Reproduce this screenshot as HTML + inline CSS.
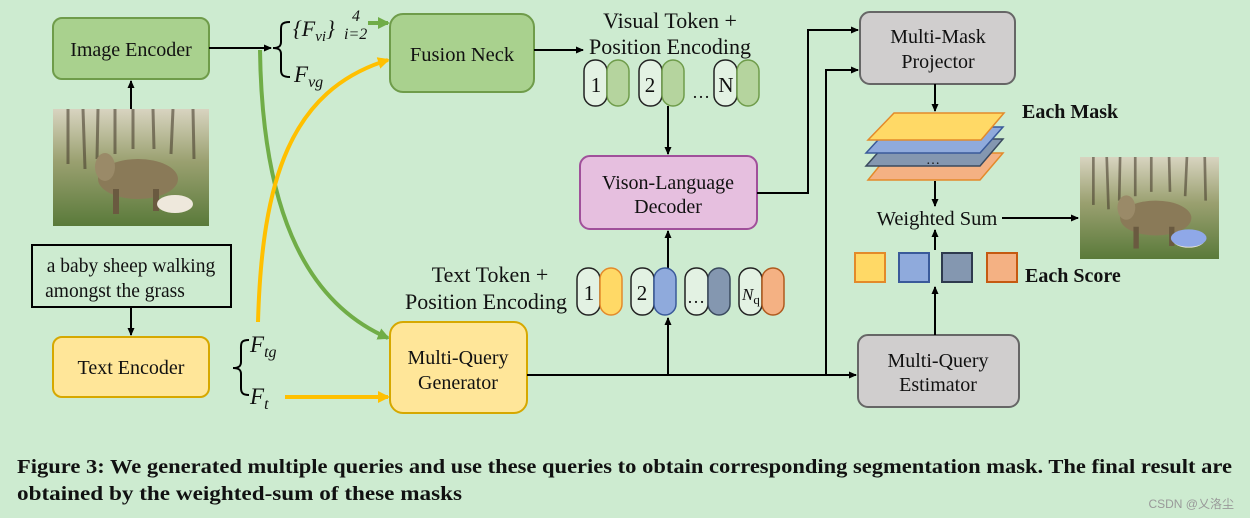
<!DOCTYPE html>
<html><head><meta charset="utf-8"><style>
html,body{margin:0;padding:0;background:#cdebd0}
svg{display:block}
text{font-family:"Liberation Serif",serif;fill:#111}
</style></head><body>
<svg width="1250" height="518" viewBox="0 0 1250 518" xmlns="http://www.w3.org/2000/svg">
<defs>
<marker id="ab" markerWidth="8" markerHeight="8" refX="7" refY="4" orient="auto" markerUnits="userSpaceOnUse"><path d="M0,0.5 L8,4 L0,7.5 z" fill="#000"/></marker>
<marker id="ag" markerWidth="12" markerHeight="12" refX="10" refY="6" orient="auto" markerUnits="userSpaceOnUse"><path d="M0,0 L12,6 L0,12 z" fill="#70ad47"/></marker>
<marker id="ay" markerWidth="12" markerHeight="12" refX="10" refY="6" orient="auto" markerUnits="userSpaceOnUse"><path d="M0,0 L12,6 L0,12 z" fill="#ffc000"/></marker>
<linearGradient id="ph" x1="0" y1="0" x2="0" y2="1"><stop offset="0" stop-color="#d8d4c0"/><stop offset="0.45" stop-color="#9aa070"/><stop offset="1" stop-color="#5a7a3a"/></linearGradient>
<symbol id="photo" viewBox="0 0 156 117">
<rect width="156" height="117" fill="url(#ph)"/>
<g stroke="#4a4030" stroke-width="3" opacity="0.6"><line x1="15" y1="0" x2="15" y2="55"/><line x1="30" y1="0" x2="32" y2="60"/><line x1="45" y1="0" x2="44" y2="50"/><line x1="62" y1="0" x2="62" y2="45"/><line x1="80" y1="0" x2="80" y2="40"/><line x1="100" y1="0" x2="101" y2="40"/><line x1="120" y1="0" x2="118" y2="45"/><line x1="140" y1="0" x2="141" y2="50"/></g>
<ellipse cx="85" cy="70" rx="40" ry="20" fill="#8a7a58"/>
<ellipse cx="52" cy="58" rx="10" ry="14" fill="#9a8a68"/>
<rect x="60" y="80" width="6" height="25" fill="#6a5a40"/><rect x="100" y="80" width="6" height="22" fill="#6a5a40"/>
<ellipse cx="122" cy="95" rx="18" ry="9" fill="#eee8dc"/>
</symbol>
</defs>

<use href="#photo" x="53" y="109" width="156" height="117"/>
<svg x="1080" y="157" width="139" height="102" viewBox="0 0 156 117" preserveAspectRatio="none"><use href="#photo" width="156" height="117"/><ellipse cx="122" cy="93" rx="20" ry="10" fill="#8fa8e8"/></svg>

<path d="M260,50 C262,200 300,300 388,338" fill="none" stroke="#70ad47" stroke-width="4" marker-end="url(#ag)"/>
<path d="M258,322 C262,180 290,90 388,60" fill="none" stroke="#ffc000" stroke-width="4" marker-end="url(#ay)"/>
<line x1="368" y1="23" x2="388" y2="23" stroke="#70ad47" stroke-width="4" marker-end="url(#ag)"/>
<line x1="285" y1="397" x2="388" y2="397" stroke="#ffc000" stroke-width="4" marker-end="url(#ay)"/>

<rect x="53" y="18" width="156" height="61" rx="9" fill="#a9d18e" stroke="#6f9c4a" stroke-width="2"/>
<text x="131" y="56" font-size="20" text-anchor="middle">Image Encoder</text>
<rect x="32" y="245" width="199" height="62" fill="none" stroke="#000" stroke-width="2"/>
<text x="131" y="272" font-size="19.5" text-anchor="middle">a baby sheep walking</text>
<text x="115" y="297" font-size="19.5" text-anchor="middle">amongst the grass</text>
<rect x="53" y="337" width="156" height="60" rx="9" fill="#ffe699" stroke="#d6a800" stroke-width="2"/>
<text x="131" y="374" font-size="20" text-anchor="middle">Text Encoder</text>
<rect x="390" y="14" width="144" height="78" rx="13" fill="#a9d18e" stroke="#6f9c4a" stroke-width="2"/>
<text x="462" y="61" font-size="20.5" text-anchor="middle">Fusion Neck</text>
<rect x="390" y="322" width="137" height="91" rx="13" fill="#ffe699" stroke="#d6a800" stroke-width="2"/>
<text x="458" y="364" font-size="20" text-anchor="middle">Multi-Query</text>
<text x="458" y="389" font-size="20" text-anchor="middle">Generator</text>
<rect x="580" y="156" width="177" height="73" rx="10" fill="#e6bfdf" stroke="#a0509a" stroke-width="2"/>
<text x="668" y="189" font-size="20" text-anchor="middle">Vison-Language</text>
<text x="668" y="213" font-size="20" text-anchor="middle">Decoder</text>
<rect x="860" y="12" width="155" height="72" rx="10" fill="#d0cece" stroke="#666" stroke-width="2"/>
<text x="938" y="43" font-size="20" text-anchor="middle">Multi-Mask</text>
<text x="938" y="68" font-size="20" text-anchor="middle">Projector</text>
<rect x="858" y="335" width="161" height="72" rx="10" fill="#d0cece" stroke="#666" stroke-width="2"/>
<text x="938" y="367" font-size="20" text-anchor="middle">Multi-Query</text>
<text x="938" y="391" font-size="20" text-anchor="middle">Estimator</text>

<g stroke="#000" stroke-width="2" fill="none">
<line x1="209" y1="48" x2="271" y2="48" marker-end="url(#ab)"/>
<line x1="131" y1="109" x2="131" y2="81" marker-end="url(#ab)"/>
<line x1="131" y1="307" x2="131" y2="335" marker-end="url(#ab)"/>
<line x1="534" y1="50" x2="583" y2="50" marker-end="url(#ab)"/>
<line x1="668" y1="106" x2="668" y2="154" marker-end="url(#ab)"/>
<line x1="668" y1="268" x2="668" y2="231" marker-end="url(#ab)"/>
<line x1="527" y1="375" x2="856" y2="375" marker-end="url(#ab)"/>
<line x1="668" y1="375" x2="668" y2="318" marker-end="url(#ab)"/>
<polyline points="826,375 826,70 858,70" marker-end="url(#ab)"/>
<polyline points="757,193 808,193 808,30 858,30" marker-end="url(#ab)"/>
<line x1="935" y1="84" x2="935" y2="111" marker-end="url(#ab)"/>
<line x1="935" y1="181" x2="935" y2="206" marker-end="url(#ab)"/>
<line x1="935" y1="250" x2="935" y2="230" marker-end="url(#ab)"/>
<line x1="935" y1="335" x2="935" y2="287" marker-end="url(#ab)"/>
<line x1="1002" y1="218" x2="1078" y2="218" marker-end="url(#ab)"/>
<path d="M290,22 C280,22 281,26 281,32 L281,42 C281,46 279,48 273,48 C279,48 281,50 281,54 L281,70 C281,75 283,77 290,77" stroke-width="2"/>
<path d="M249,340 C240,340 241,344 241,350 L241,362 C241,366 239,368 233,368 C239,368 241,370 241,374 L241,388 C241,393 243,395 249,395"/>
</g>

<text x="293" y="36" font-size="22" font-style="italic">{F<tspan font-size="15" dy="5">vi</tspan><tspan dy="-5">}</tspan></text>
<text x="352" y="21" font-size="16" font-style="italic">4</text>
<text x="344" y="39" font-size="16" font-style="italic">i=2</text>
<text x="294" y="82" font-size="23" font-style="italic">F<tspan font-size="16" dy="5">vg</tspan></text>
<text x="250" y="352" font-size="23" font-style="italic">F<tspan font-size="16" dy="5">tg</tspan></text>
<text x="250" y="404" font-size="23" font-style="italic">F<tspan font-size="16" dy="5">t</tspan></text>

<text x="670" y="28" font-size="22" text-anchor="middle">Visual Token +</text>
<text x="670" y="54" font-size="22" text-anchor="middle">Position Encoding</text>
<g stroke-width="1.5">
<rect x="584" y="60" width="23" height="46" rx="11" fill="#e3f2e3" stroke="#222"/>
<rect x="607" y="60" width="22" height="46" rx="11" fill="#b5d49e" stroke="#6f9c4a"/>
<rect x="639" y="60" width="23" height="46" rx="11" fill="#e3f2e3" stroke="#222"/>
<rect x="662" y="60" width="22" height="46" rx="11" fill="#b5d49e" stroke="#6f9c4a"/>
<rect x="714" y="60" width="23" height="46" rx="11" fill="#e3f2e3" stroke="#222"/>
<rect x="737" y="60" width="22" height="46" rx="11" fill="#b5d49e" stroke="#6f9c4a"/>
</g>
<text x="596" y="92" font-size="21" text-anchor="middle">1</text>
<text x="650" y="92" font-size="21" text-anchor="middle">2</text>
<text x="701" y="98" font-size="18" text-anchor="middle">…</text>
<text x="726" y="92" font-size="21" text-anchor="middle">N</text>

<text x="490" y="282" font-size="22" text-anchor="middle">Text Token +</text>
<text x="486" y="309" font-size="22" text-anchor="middle">Position Encoding</text>
<g stroke-width="1.5">
<rect x="577" y="268" width="23" height="47" rx="11" fill="#e3f2e3" stroke="#222"/>
<rect x="600" y="268" width="22" height="47" rx="11" fill="#ffd966" stroke="#e38a2a"/>
<rect x="631" y="268" width="23" height="47" rx="11" fill="#e3f2e3" stroke="#222"/>
<rect x="654" y="268" width="22" height="47" rx="11" fill="#8faadc" stroke="#3a5a9a"/>
<rect x="685" y="268" width="23" height="47" rx="11" fill="#e3f2e3" stroke="#222"/>
<rect x="708" y="268" width="22" height="47" rx="11" fill="#8497b0" stroke="#3a4a5e"/>
<rect x="739" y="268" width="23" height="47" rx="11" fill="#e3f2e3" stroke="#222"/>
<rect x="762" y="268" width="22" height="47" rx="11" fill="#f4b183" stroke="#b05a1e"/>
</g>
<text x="589" y="300" font-size="21" text-anchor="middle">1</text>
<text x="642" y="300" font-size="21" text-anchor="middle">2</text>
<text x="696" y="303" font-size="18" text-anchor="middle">…</text>
<text x="742" y="300" font-size="17" font-style="italic">N<tspan font-size="13" dy="4" font-style="normal">q</tspan></text>

<polygon points="890,153 1003,153 980,180 868,180" fill="#f4b183" stroke="#e38a2a" stroke-width="1.5"/>
<polygon points="890,139 1003,139 980,166 866,166" fill="#8497b0" stroke="#3a4a5e" stroke-width="1.5"/>
<polygon points="890,127 1003,127 980,153 866,153" fill="#8faadc" stroke="#3a5a9a" stroke-width="1.5"/>
<polygon points="894,113 1004,113 981,140 868,140" fill="#ffd966" stroke="#e38a2a" stroke-width="1.5"/>
<text x="926" y="164" font-size="14">…</text>
<text x="1022" y="118" font-size="20" font-weight="bold">Each Mask</text>
<text x="937" y="225" font-size="20.5" text-anchor="middle">Weighted Sum</text>

<rect x="855" y="253" width="30" height="29" fill="#ffd966" stroke="#e38a2a" stroke-width="2"/>
<rect x="899" y="253" width="30" height="29" fill="#8faadc" stroke="#3a5a9a" stroke-width="2"/>
<rect x="942" y="253" width="30" height="29" fill="#8497b0" stroke="#2e3a4e" stroke-width="2"/>
<rect x="987" y="253" width="30" height="29" fill="#f4b183" stroke="#c55a11" stroke-width="2"/>
<text x="1025" y="282" font-size="20" font-weight="bold">Each Score</text>

<text x="17" y="473" font-size="20" font-weight="bold" textLength="1215" lengthAdjust="spacingAndGlyphs">Figure 3: We generated multiple queries and use these queries to obtain corresponding segmentation mask. The final result are</text>
<text x="17" y="500" font-size="20" font-weight="bold" textLength="445" lengthAdjust="spacingAndGlyphs">obtained by the weighted-sum of these masks</text>
<text x="1234" y="508" font-size="12" text-anchor="end" style="font-family:'Liberation Sans','Noto Sans CJK SC',sans-serif;fill:#999">CSDN @乂洛尘</text>
</svg>
</body></html>
